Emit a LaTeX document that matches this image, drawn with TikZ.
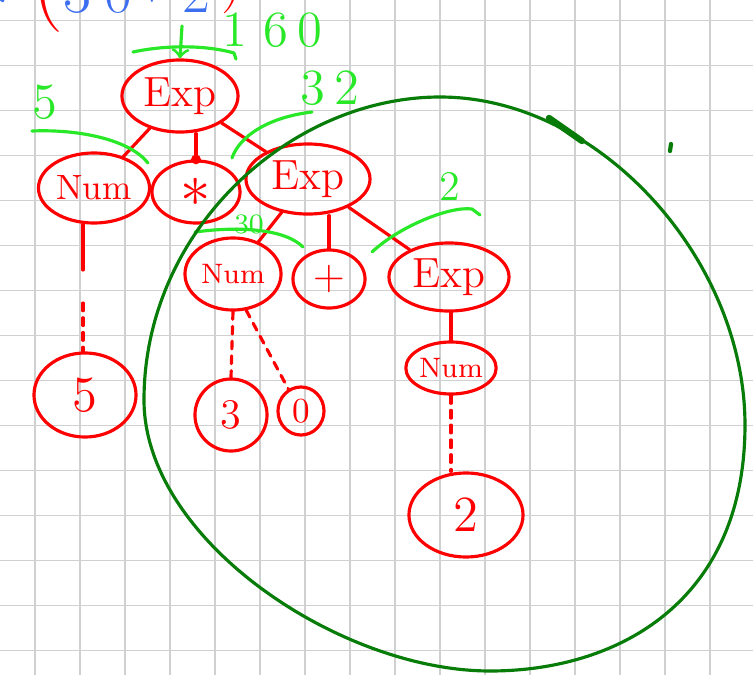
\documentclass[tikz,border=0pt]{standalone}
\usetikzlibrary{shapes.geometric}
\definecolor{penred}{RGB}{255,0,0}
\definecolor{pengreen}{RGB}{40,232,40}
\definecolor{pendark}{RGB}{8,124,8}
\definecolor{penblue}{RGB}{60,110,240}
\definecolor{gridgray}{RGB}{208,208,208}
\begin{document}
\begin{tikzpicture}[x=0.01cm, y=-0.01cm, line cap=round, line join=round]
		\tikzstyle{tnode}=[ellipse, draw=penred, line width=0.9pt, text=penred, inner sep=0pt]
		\tikzstyle{note}=[text=pengreen, inner sep=0pt]
		\tikzstyle{link}=[penred, line width=0.9pt]
		\tikzstyle{derive}=[penred, line width=0.9pt, dash pattern=on 2.2pt off 2pt]
		\tikzstyle{brace}=[pengreen, line width=0.9pt]
		\useasboundingbox[fill=white] (0,0) rectangle (753,675);
		% squared paper
		\foreach \i in {0,...,15}
			\draw[gridgray, line width=0.45pt] (35+45*\i,0) -- (35+45*\i,675);
		\foreach \j in {0,...,14}
			\draw[gridgray, line width=0.45pt] (0,20.7+45*\j) -- (753,20.7+45*\j);
		% expression at the top, cut by the page edge
		\node[text=penblue, font=\LARGE, anchor=base](b0)at(-6,10){$\ast$};
		\node[text=penred, font=\Huge, anchor=base](b1)at(48,10){(};
		\node[text=penblue, font=\LARGE, anchor=base](b2)at(77,12){3};
		\node[text=penblue, font=\LARGE, anchor=base](b3)at(118,12){0};
		\node[text=penblue, font=\LARGE, anchor=base](b4)at(152,-2){$+$};
		\node[text=penblue, font=\LARGE, anchor=base](b5)at(196,12){2};
		\node[text=penred, font=\LARGE, anchor=base](b6)at(232,-2){)};
		% parse tree
		\node[tnode, minimum width=1.16cm, minimum height=0.72cm, font=\large](e1)at(180,96){Exp};
		\node[tnode, minimum width=1.11cm, minimum height=0.70cm](n1)at(94,188){Num};
		\node[tnode, minimum width=0.88cm, minimum height=0.62cm, font=\LARGE](m1)at(196,192){$\ast$};
		\node[tnode, minimum width=1.24cm, minimum height=0.70cm, font=\large](e2)at(308,179){Exp};
		\node[tnode, minimum width=0.96cm, minimum height=0.72cm, font=\footnotesize](n2)at(233,274){Num};
		\node[tnode, minimum width=0.72cm, minimum height=0.58cm, font=\large](p1)at(329,279){$+$};
		\node[tnode, minimum width=1.20cm, minimum height=0.68cm, font=\large](e3)at(449,277){Exp};
		\node[tnode, minimum width=0.82cm, minimum height=0.52cm, font=\footnotesize](n3)at(451,368){Num};
		\node[tnode, minimum width=1.02cm, minimum height=0.84cm, font=\Large](l5)at(85,395){5};
		\node[tnode, minimum width=0.72cm, minimum height=0.72cm, font=\large](l3)at(231,415){3};
		\node[tnode, minimum width=0.46cm, minimum height=0.48cm](l0)at(301,411){0};
		\node[tnode, minimum width=1.14cm, minimum height=0.84cm, font=\Large](l2)at(466,515){2};
		\coordinate (cut) at (83,270);
		\coordinate (resume) at (83,303);
		\draw[link]{
			(e1) -- (n1)
		};
		\draw[link]{
			(e1.south -| m1.north) -- (m1.north)
		};
		\fill[penred] (m1.north) circle (1.4pt);
		\draw[link]{
			(e1) -- (e2)
		};
		\draw[link]{
			(e2) -- (n2)
		};
		\draw[link]{
			(e2.south -| p1.north) -- (p1.north)
		};
		\draw[link]{
			(e2) -- (e3)
		};
		\draw[link]{
			(e3.south -| n3.north) -- (n3.north)
		};
		\draw[link]{
			(n1.south -| cut) -- (cut)
		};
		\draw[derive]{
			(resume) -- (l5.north -| resume)
		};
		\draw[derive]{
			(n2.south) -- (l3.north)
		};
		\draw[derive]{
			(n2.-70) -- (l0.120)
		};
		\draw[derive]{
			(n3.south) -- (l2.north -| n3.south)
		};
		% values passed up the tree
		\coordinate (v0) at (182,26);
		\draw[brace,->] (v0) -- (e1.north);
		\node[note, font=\Large](s1)at(272,30){1\,\,6\,0};
		\draw[brace] (133,52) .. controls (170,44) and (210,46) .. (234,53) -- (236,59);
		\node[note, font=\Large](s2)at(45,102){5};
		\draw[brace] (32,131) .. controls (80,129) and (130,140) .. (148,163);
		\node[note, font=\Large](s3)at(330,88){3\,2};
		\draw[brace] (232,158) .. controls (240,135) and (270,117) .. (312,112);
		\node[note, font=\footnotesize](s4)at(249,224){30};
		\draw[brace] (195,232) .. controls (240,226) and (285,229) .. (303,247);
		\node[note, font=\large](s5)at(450,186){2};
		\draw[brace] (372,252) .. controls (400,226) and (450,206) .. (472,209) -- (480,215);
		% subtree marked by hand
		\draw[pendark, line width=0.9pt] (440,97)
			.. controls (600,97) and (745,260) .. (745,425)
			.. controls (745,600) and (620,671) .. (490,671)
			.. controls (340,671) and (144,540) .. (144,400)
			.. controls (144,230) and (290,97) .. cycle;
		\draw[pendark, line width=1.8pt] (549,118) -- (582,141);
		\draw[pendark, line width=1.2pt] (671,144) -- (670,151);
\end{tikzpicture}
\end{document}
